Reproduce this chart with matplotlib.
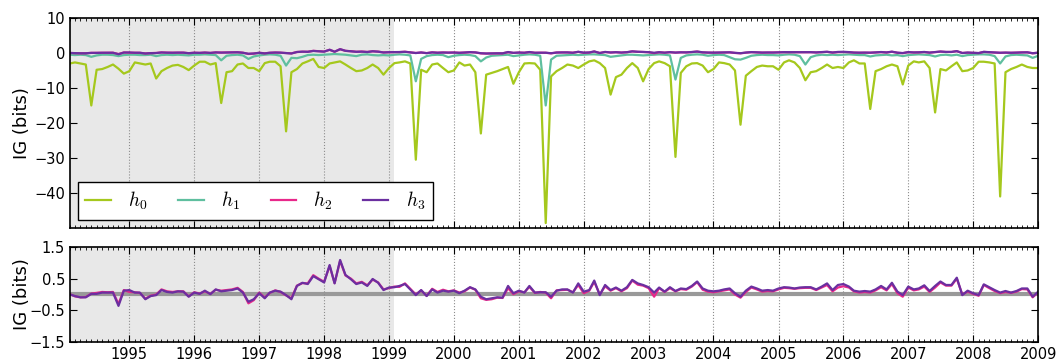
import pandas as pd
import matplotlib
matplotlib.use('Agg')
import matplotlib.pyplot as plt
import matplotlib.dates as mdates

# monthly values, Feb 1994 .. Jan 2009
months = pd.date_range('1994-02-01', periods=180, freq='MS')
train_end = pd.Timestamp('1999-02-01')

h0 = [-3.0, -2.7, -3.0, -3.3, -15.0, -4.8, -4.6, -4.0, -3.3, -4.5, -5.9, -5.2,
      -2.7, -3.0, -3.3, -3.0, -7.3, -5.2, -4.3, -3.6, -3.4, -4.0, -4.9, -3.6,
      -2.5, -2.5, -3.3, -2.9, -14.3, -5.5, -5.2, -3.3, -3.0, -4.3, -4.3, -5.2,
      -2.9, -2.5, -2.5, -3.8, -22.4, -5.5, -4.6, -3.0, -2.4, -1.7, -4.0, -4.3,
      -3.0, -2.7, -2.4, -3.3, -4.3, -5.2, -5.0, -4.3, -3.3, -4.3, -6.2, -4.3,
      -2.9, -2.7, -2.4, -3.0, -30.5, -4.8, -5.5, -3.3, -3.0, -4.3, -5.5, -5.0,
      -2.7, -3.6, -3.3, -5.5, -23.0, -6.2, -5.7, -5.2, -4.6, -4.0, -8.8, -5.5,
      -3.0, -2.9, -3.0, -4.8, -48.6, -6.7, -5.2, -4.3, -3.3, -3.6, -4.3, -3.3,
      -2.4, -2.1, -2.9, -4.3, -11.9, -6.9, -6.2, -4.3, -2.9, -4.3, -8.1, -4.6,
      -2.9, -2.4, -2.9, -3.8, -29.7, -5.7, -3.8, -3.0, -2.9, -3.6, -5.5, -4.6,
      -2.7, -2.9, -3.3, -5.0, -20.5, -6.5, -5.2, -4.0, -3.6, -3.8, -3.8, -4.8,
      -2.7, -2.1, -2.7, -4.3, -7.8, -5.5, -5.2, -4.3, -3.3, -4.3, -4.0, -4.3,
      -2.7, -2.1, -3.0, -3.0, -16.0, -5.2, -4.6, -3.8, -3.3, -3.8, -9.0, -3.6,
      -2.4, -2.7, -2.4, -4.3, -17.0, -4.6, -5.0, -3.8, -2.7, -5.2, -5.0, -4.3,
      -2.5, -2.5, -2.7, -3.0, -41.0, -5.5, -4.6, -4.0, -3.3, -4.0, -4.3, -4.3]

h1 = [-0.5, -0.6, -0.5, -0.6, -1.1, -0.7, -0.5, -0.5, -0.6, -0.9, -0.6, -0.5,
      -0.5, -0.6, -0.6, -0.5, -0.9, -0.6, -0.5, -0.6, -0.5, -0.6, -0.7, -0.5,
      -0.5, -0.4, -0.5, -0.6, -2.1, -0.8, -0.6, -0.5, -0.7, -1.7, -1.0, -0.7,
      -0.5, -0.4, -0.5, -0.8, -3.6, -1.4, -1.5, -1.1, -0.6, -0.5, -0.6, -0.5,
      -0.4, -0.3, -0.4, -0.5, -0.7, -0.9, -0.5, -0.4, -0.6, -0.7, -0.6, -0.7,
      -0.5, -0.4, -0.5, -0.7, -8.1, -1.7, -0.9, -0.6, -0.5, -0.6, -1.2, -0.8,
      -0.6, -0.5, -0.6, -0.9, -2.4, -1.3, -0.8, -0.7, -0.6, -0.5, -0.9, -0.7,
      -0.5, -0.4, -0.5, -0.8, -15.0, -1.9, -0.8, -0.7, -0.6, -0.5, -0.6, -0.5,
      -0.4, -0.4, -0.5, -0.6, -1.1, -0.9, -0.7, -0.5, -0.5, -0.6, -0.7, -0.6,
      -0.5, -0.4, -0.5, -0.7, -7.6, -1.4, -0.7, -0.5, -0.4, -0.5, -0.8, -0.6,
      -0.5, -0.6, -1.2, -1.8, -1.9, -1.4, -0.8, -0.6, -0.5, -0.6, -0.6, -0.7,
      -0.5, -0.4, -0.5, -0.9, -3.3, -1.2, -0.7, -0.5, -0.6, -0.5, -0.6, -0.5,
      -0.4, -0.5, -0.6, -0.6, -1.0, -0.7, -0.6, -0.5, -0.7, -0.6, -0.9, -0.6,
      -0.5, -0.4, -0.5, -0.6, -1.0, -0.6, -0.5, -0.7, -0.5, -0.9, -0.6, -0.5,
      -0.4, -0.4, -0.5, -0.9, -3.0, -1.0, -0.6, -0.5, -0.6, -0.7, -1.4, -0.8]

h2 = [0.01, -0.06, -0.09, -0.08, 0.03, 0.05, 0.08, 0.07, 0.08, -0.30, 0.14, 0.08,
      0.07, 0.05, -0.13, -0.04, 0.00, 0.16, 0.10, 0.08, 0.10, 0.10, -0.06, 0.07,
      0.03, 0.10, 0.02, 0.15, 0.12, 0.14, 0.16, 0.21, 0.08, -0.28, -0.18, 0.06,
      -0.10, 0.05, 0.13, 0.08, -0.03, -0.12, 0.28, 0.36, 0.35, 0.61, 0.50, 0.40,
      0.90, 0.36, 1.06, 0.60, 0.50, 0.35, 0.40, 0.29, 0.47, 0.38, 0.16, 0.20,
      0.25, 0.24, 0.35, 0.18, 0.00, 0.13, -0.04, 0.18, 0.08, 0.15, 0.10, 0.13,
      0.06, 0.10, 0.22, 0.15, -0.12, -0.17, -0.15, -0.10, -0.11, 0.20, 0.01, 0.10,
      0.07, 0.24, 0.05, 0.08, 0.06, -0.12, 0.13, 0.14, 0.15, 0.07, 0.30, 0.04,
      0.12, 0.40, 0.00, 0.26, 0.12, 0.20, 0.10, 0.20, 0.44, 0.31, 0.28, 0.20,
      -0.07, 0.20, 0.08, 0.20, 0.10, 0.17, 0.15, 0.25, 0.39, 0.15, 0.09, 0.07,
      0.10, 0.13, 0.16, 0.00, -0.10, 0.08, 0.22, 0.16, 0.09, 0.11, 0.10, 0.16,
      0.21, 0.20, 0.18, 0.20, 0.21, 0.21, 0.14, 0.22, 0.30, 0.10, 0.22, 0.26,
      0.22, 0.10, 0.06, 0.08, 0.06, 0.13, 0.23, 0.13, 0.33, 0.04, -0.07, 0.22,
      0.13, 0.16, 0.25, 0.08, 0.22, 0.38, 0.28, 0.28, 0.50, 0.00, 0.09, 0.02,
      -0.04, 0.30, 0.20, 0.11, 0.04, 0.08, 0.05, 0.09, 0.17, 0.16, -0.09, 0.07]

h3 = [0.00, -0.05, -0.09, -0.09, 0.02, 0.02, 0.06, 0.06, 0.06, -0.36, 0.12, 0.14,
      0.06, 0.06, -0.15, -0.05, -0.02, 0.14, 0.08, 0.06, 0.10, 0.09, -0.07, 0.06,
      0.02, 0.12, 0.01, 0.16, 0.10, 0.12, 0.14, 0.19, 0.06, -0.23, -0.15, 0.04,
      -0.12, 0.06, 0.12, 0.09, -0.02, -0.15, 0.27, 0.37, 0.33, 0.58, 0.48, 0.38,
      0.93, 0.35, 1.09, 0.62, 0.48, 0.33, 0.38, 0.27, 0.49, 0.37, 0.14, 0.22,
      0.23, 0.27, 0.33, 0.16, -0.02, 0.14, -0.05, 0.16, 0.06, 0.12, 0.09, 0.12,
      0.04, 0.12, 0.23, 0.16, -0.07, -0.15, -0.12, -0.09, -0.10, 0.27, 0.04, 0.12,
      0.06, 0.27, 0.06, 0.07, 0.07, -0.07, 0.12, 0.16, 0.16, 0.06, 0.35, 0.09,
      0.14, 0.44, -0.02, 0.30, 0.14, 0.22, 0.12, 0.23, 0.46, 0.35, 0.30, 0.23,
      0.06, 0.22, 0.09, 0.23, 0.11, 0.19, 0.17, 0.27, 0.41, 0.19, 0.12, 0.10,
      0.12, 0.16, 0.19, 0.04, -0.07, 0.12, 0.25, 0.19, 0.12, 0.14, 0.12, 0.19,
      0.23, 0.22, 0.19, 0.22, 0.23, 0.23, 0.16, 0.25, 0.35, 0.14, 0.30, 0.33,
      0.25, 0.12, 0.09, 0.11, 0.09, 0.16, 0.27, 0.16, 0.37, 0.09, -0.02, 0.25,
      0.16, 0.19, 0.29, 0.11, 0.27, 0.41, 0.30, 0.30, 0.53, -0.02, 0.12, 0.04,
      -0.02, 0.32, 0.23, 0.14, 0.06, 0.11, 0.06, 0.11, 0.19, 0.19, -0.07, 0.09]

series = [('$h_0$', h0, '#a5c81d'),
          ('$h_1$', h1, '#5fbf9f'),
          ('$h_2$', h2, '#e8288a'),
          ('$h_3$', h3, '#6b2fa0')]

plt.rcParams['mathtext.fontset'] = 'cm'
plt.rcParams['font.size'] = 10.5

fig = plt.figure(figsize=(10.57, 3.63), dpi=100)
ax1 = fig.add_axes([0.0662, 0.372, 0.916, 0.5785])
ax2 = fig.add_axes([0.0662, 0.0579, 0.916, 0.2617], sharex=ax1)

for ax in (ax1, ax2):
    ax.axvspan(months[0], train_end, color='#e8e8e8', lw=0, zorder=0)
    ax.grid(axis='x', which='major', color='0.55', ls=':', lw=0.8)
    ax.tick_params(which='both', direction='in', top=True, right=True)
    ax.tick_params(which='major', length=5)
    ax.tick_params(which='minor', length=2.5)
    for s in ax.spines.values():
        s.set_linewidth(1.2)
    ax.set_ylabel('IG (bits)', fontsize=13)
    ax.yaxis.set_label_coords(-0.04, 0.5)

for label, vals, col in series:
    ax1.plot(months, vals, color=col, lw=1.6, label=label)

ax2.axhline(0, color='0.6', lw=3, zorder=1)
for label, vals, col in series[2:]:
    ax2.plot(months, vals, color=col, lw=1.6)

ax1.set_xlim(months[0], months[-1])
ax1.xaxis.set_major_locator(mdates.YearLocator())
ax1.xaxis.set_minor_locator(mdates.MonthLocator())
ax1.xaxis.set_major_formatter(mdates.DateFormatter('%Y'))
ax1.tick_params(labelbottom=False)

ax1.set_ylim(-50, 10)
ax1.set_yticks([-40, -30, -20, -10, 0, 10])
ax2.set_ylim(-1.5, 1.5)
ax2.set_yticks([-1.5, -0.5, 0.5, 1.5])

ax1.legend(loc='lower left', bbox_to_anchor=(0.008, 0.038, 0.367, 0.138),
           mode='expand', ncol=4, fontsize=14, handlelength=1.3,
           handletextpad=0.9, borderaxespad=0, fancybox=False,
           framealpha=1, edgecolor='k')

fig.savefig('out.png', dpi=100)
